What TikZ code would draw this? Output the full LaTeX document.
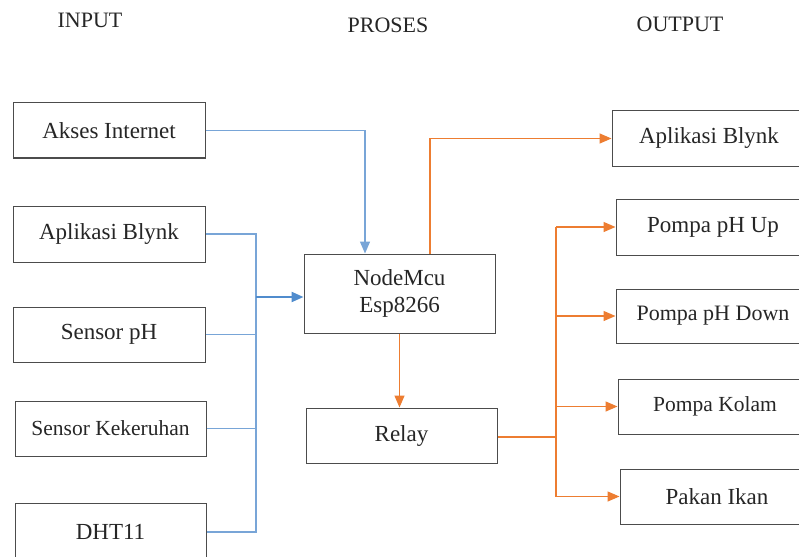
\documentclass[tikz,border=0pt]{standalone}
\usepackage{fontspec}
\setmainfont{Liberation Serif}
\usetikzlibrary{arrows.meta}
\definecolor{lineblue}{RGB}{120,165,215}
\definecolor{arrowblue}{RGB}{80,140,205}
\definecolor{lineorange}{RGB}{237,125,49}
\tikzset{
  blok/.style={draw=black!70,line width=1pt,minimum width=192pt,minimum height=55pt,
    text=black!85,font=\fontsize{23}{27}\selectfont},
  judul/.style={text=black!85,font=\fontsize{22}{26}\selectfont},
  biru/.style={draw=lineblue,line width=1.3pt},
  oranye/.style={draw=lineorange,line width=1.3pt},
  panah/.style={-{Triangle[length=12pt,width=10pt]}}
}
\begin{document}
\begin{tikzpicture}[x=1pt,y=-1pt]
            \clip (0,0) rectangle (799,556);
            \fill[white] (0,0) rectangle (799,556);

            \node[judul] (input) at (90,20) {INPUT};
            \node[judul] (proses) at (388,25) {PROSES};
            \node[judul] (output) at (680,24) {OUTPUT};

            \node[blok] (akses) at (109,130.5) {Akses Internet};
            \node[blok,minimum height=56pt] (blynkin) at (109,234) {Aplikasi Blynk};
            \node[blok] (sensorph) at (109,334.5) {Sensor pH};
            \node[blok,minimum width=191pt,font=\fontsize{21.5}{25}\selectfont] (keruh) at (110.5,428.5) {Sensor Kekeruhan};
            \node[blok,minimum width=191pt,minimum height=58pt] (dht) at (110.5,532) {DHT11};

            \node[blok,minimum width=191pt,minimum height=79pt,align=center] (nodemcu) at (399.5,293.5) {NodeMcu\\Esp8266};
            \node[blok,minimum width=191pt] (relay) at (401.5,435.5) {Relay};

            \node[blok,minimum width=194pt] (blynkout) at (709,138.5) {Aplikasi Blynk};
            \node[blok,minimum width=194pt,minimum height=56pt] (phup) at (713,227) {Pompa pH Up};
            \node[blok,minimum width=194pt,minimum height=54pt,font=\fontsize{22}{26}\selectfont] (phdown) at (713,316) {Pompa pH Down};
            \node[blok,minimum width=194pt,font=\fontsize{21.5}{25}\selectfont] (kolam) at (715,406.5) {Pompa Kolam};
            \node[blok,minimum width=194pt] (pakan) at (717,496.5) {Pakan Ikan};

            \coordinate (busin) at (256,297);
            \coordinate (busout) at (556,437);

            \draw[biru,panah] (akses.east) -| ([xshift=-34.5pt]nodemcu.north);
            \draw[biru] (blynkin.east) -| (busin |- dht.east) -- (dht.east)
                        (sensorph.east) -- (sensorph.east -| busin)
                        (keruh.east) -- (keruh.east -| busin);
            \draw[draw=arrowblue,line width=2.2pt,panah] (busin) -- (busin -| nodemcu.west);

            \draw[oranye,panah] ([xshift=30.5pt]nodemcu.north) |- (blynkout.west);
            \draw[oranye,panah] (nodemcu.south) -- (nodemcu.south |- relay.north);
            \draw[oranye,line width=2pt] (relay.east |- busout) -- (busout);
            \draw[oranye] (busout |- phup.west) -- (busout |- pakan.west);
            \draw[oranye,panah] (busout |- phup.west) -- (phup.west);
            \draw[oranye,panah] (busout |- phdown.west) -- (phdown.west);
            \draw[oranye,panah] (busout |- kolam.west) -- (kolam.west);
            \draw[oranye,panah] (busout |- pakan.west) -- (pakan.west);
        \end{tikzpicture}
\end{document}
